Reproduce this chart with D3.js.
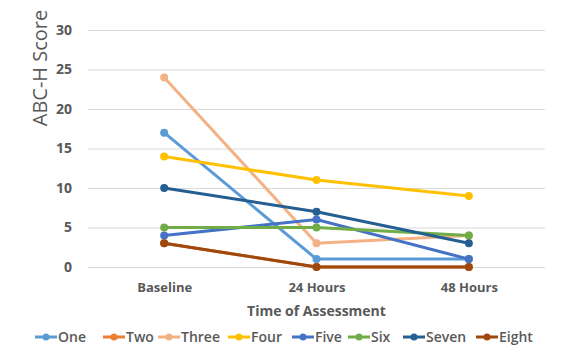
<!DOCTYPE html>
<html>
<head>
<meta charset="utf-8">
<script src="https://cdn.jsdelivr.net/npm/d3@7"></script>
<style>
  body { margin: 0; background: #fff; }
  text { font-family: "Open Sans", sans-serif; }
</style>
</head>
<body>
<div id="chart"></div>
<script>
const timepoints = ['Baseline', '24 Hours', '48 Hours'];
const yTicks = [0, 5, 10, 15, 20, 25, 30];

const seriesNames = ['One', 'Two', 'Three', 'Four', 'Five', 'Six', 'Seven', 'Eight'];
const seriesColors = ['#5b9bd5', '#ed7d31', '#f4b183', '#ffc000', '#4472c4', '#70ad47', '#255e91', '#9e480e'];

const one   = [17, 1, 1];
const two   = [3, 0, 0];
const three = [24, 3, 4];
const four  = [14, 11, 9];
const five  = [4, 6, 1];
const six   = [5, 5, 4];
const seven = [10, 7, 3];
const eight = [3, 0, 0];

const seriesValues = [one, two, three, four, five, six, seven, eight];

// set the dimensions and margins of the graph
const W = 580, H = 350;
const margin = {top: 30, right: 35, bottom: 83, left: 88};
const width  = W - margin.left - margin.right;
const height = H - margin.top - margin.bottom;

const svgRoot = d3.select('#chart')
  .append('svg')
    .attr('width', W)
    .attr('height', H);

const svg = svgRoot.append('g')
    .attr('transform', `translate(${margin.left},${margin.top})`);

const x = d3.scalePoint()
  .domain(timepoints)
  .range([0, width])
  .padding(0.5);

const y = d3.scaleLinear()
  .domain([0, 30])
  .range([height, 0]);

// gridlines + y labels
const yAxis = svg.append('g')
  .call(d3.axisLeft(y).tickValues(yTicks).tickSize(-width).tickPadding(16));
yAxis.select('.domain').remove();
yAxis.selectAll('.tick line').attr('stroke', '#d9d9d9').attr('stroke-width', 1);
yAxis.selectAll('.tick text')
  .attr('fill', '#595959')
  .style('font-size', '14px')
  .style('font-weight', '700');

// x labels
const xAxis = svg.append('g')
  .attr('transform', `translate(0,${height})`)
  .call(d3.axisBottom(x).tickSize(0).tickPadding(16));
xAxis.select('.domain').remove();
xAxis.selectAll('.tick text')
  .attr('fill', '#595959')
  .style('font-size', '13px')
  .style('font-weight', '700');

// axis titles
svgRoot.append('text')
  .attr('transform', 'translate(47,68) rotate(-90)')
  .attr('text-anchor', 'middle')
  .attr('fill', '#595959')
  .style('font-size', '20px')
  .text('ABC-H Score');

svgRoot.append('text')
  .attr('x', margin.left + width / 2)
  .attr('y', 316)
  .attr('text-anchor', 'middle')
  .attr('fill', '#595959')
  .style('font-size', '14px')
  .style('font-weight', '700')
  .text('Time of Assessment');

// series lines + markers
const line = d3.line()
  .x((d, i) => x(timepoints[i]))
  .y(d => y(d));

const groups = svg.selectAll('.series')
  .data(seriesValues)
  .join('g')
    .attr('class', 'series');

groups.append('path')
  .attr('d', d => line(d))
  .attr('fill', 'none')
  .attr('stroke', (d, i) => seriesColors[i])
  .attr('stroke-width', 3);

groups.selectAll('circle')
  .data((d, i) => d.map((v, j) => ({v, j, c: seriesColors[i]})))
  .join('circle')
    .attr('cx', d => x(timepoints[d.j]))
    .attr('cy', d => y(d.v))
    .attr('r', 4)
    .attr('fill', d => d.c);

// legend
const legendX = [35, 103, 158, 228, 292, 348, 403, 476];
const legend = svgRoot.append('g')
  .selectAll('g')
  .data(seriesNames)
  .join('g')
    .attr('transform', (d, i) => `translate(${legendX[i]},337)`);

legend.append('line')
  .attr('x1', 0).attr('x2', 22)
  .attr('stroke', (d, i) => seriesColors[i])
  .attr('stroke-width', 3);
legend.append('circle')
  .attr('cx', 11).attr('r', 3.5)
  .attr('fill', (d, i) => seriesColors[i]);
legend.append('text')
  .attr('x', 23)
  .attr('dy', '0.35em')
  .attr('fill', '#595959')
  .style('font-size', '14px')
  .style('font-weight', '600')
  .text(d => d);
</script>
</body>
</html>
